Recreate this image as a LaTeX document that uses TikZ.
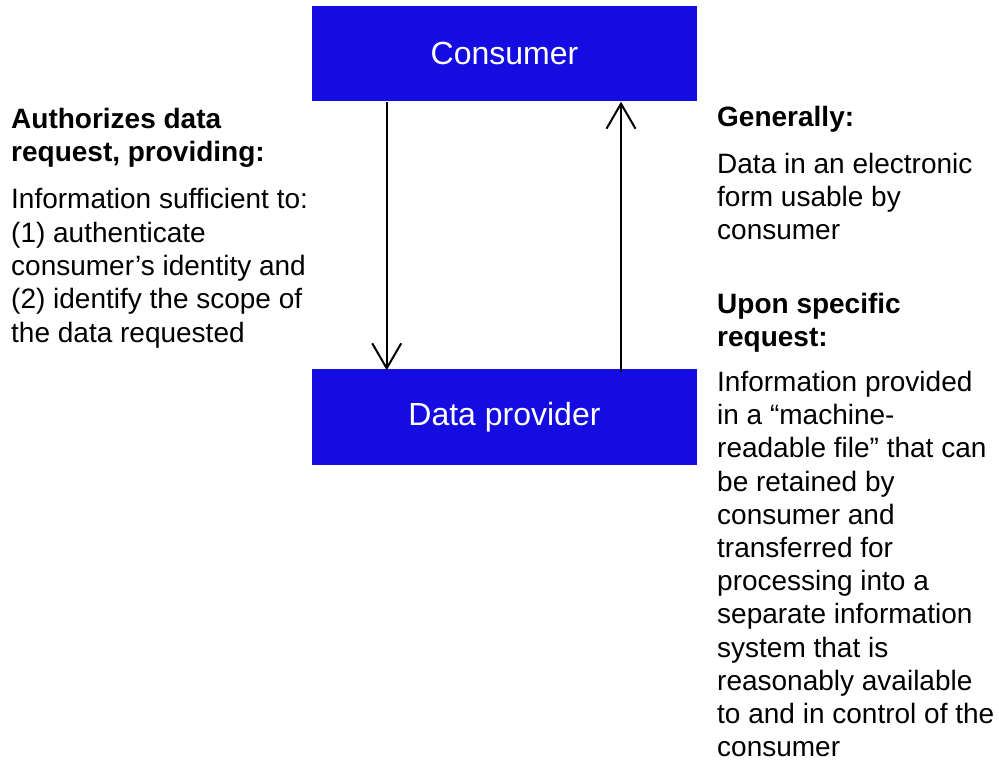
\documentclass[tikz,border=0pt]{standalone}
\usepackage{fontspec}
\setmainfont{Liberation Sans}
\usetikzlibrary{arrows.meta}
\definecolor{boxblue}{RGB}{20,12,224}
\tikzset{
  party/.style={fill=boxblue, draw=none, text=white, inner sep=0pt,
    minimum width=385pt, minimum height=95.5pt,
    font=\fontsize{32}{38}\selectfont},
  body/.style={anchor=base west, inner sep=0pt, font=\fontsize{28}{33}\selectfont},
  head/.style={body, font=\fontsize{28}{33}\selectfont\bfseries},
  flow/.style={line width=2pt, -{Straight Barb[length=25pt, width=29pt, line width=2pt]}}
}
\begin{document}
\begin{tikzpicture}[x=1pt, y=-1pt]
  \useasboundingbox (0,0) rectangle (999,762);

  % the two parties
  \node[party] (cons) at (504.5,53.75) {Consumer};
  \node[party] (prov) at (504.5,416.75) {Data provider};

  % request goes down, data comes back up
  \draw[flow] ([xshift=-117.8pt]cons.south) -- ([xshift=-117.8pt,yshift=-1.5pt]prov.north);
  \draw[flow] ([xshift=116.5pt,yshift=-3pt]prov.north) -- ([xshift=116.5pt]cons.south);

  % left column: what the consumer provides
  \node[head] (lh1) at (11,128.7) {Authorizes data};
  \node[head] (lh2) at (11,162) {request, providing:};
  \foreach \s [count=\i from 0] in {
      {Information sufficient to:},
      {(1) authenticate},
      {consumer’s identity and},
      {(2) identify the scope of},
      {the data requested}}
    \node[body] (lb\i) at (11,209+33.3*\i) {\s};

  % right column: what the provider returns
  \node[head] (rh1) at (717,127) {Generally:};
  \foreach \s [count=\i from 0] in {
      {Data in an electronic},
      {form usable by},
      {consumer}}
    \node[body] (ra\i) at (717,173.3+33.35*\i) {\s};

  \node[head] (rh2) at (717,313) {Upon specific};
  \node[head] (rh3) at (717,346) {request:};
  \foreach \s [count=\i from 0] in {
      {Information provided},
      {in a “machine-},
      {readable file” that can},
      {be retained by},
      {consumer and},
      {transferred for},
      {processing into a},
      {separate information},
      {system that is},
      {reasonably available},
      {to and in control of the},
      {consumer}}
    \node[body] (rb\i) at (717,391.5+33.2*\i) {\s};
\end{tikzpicture}
\end{document}
